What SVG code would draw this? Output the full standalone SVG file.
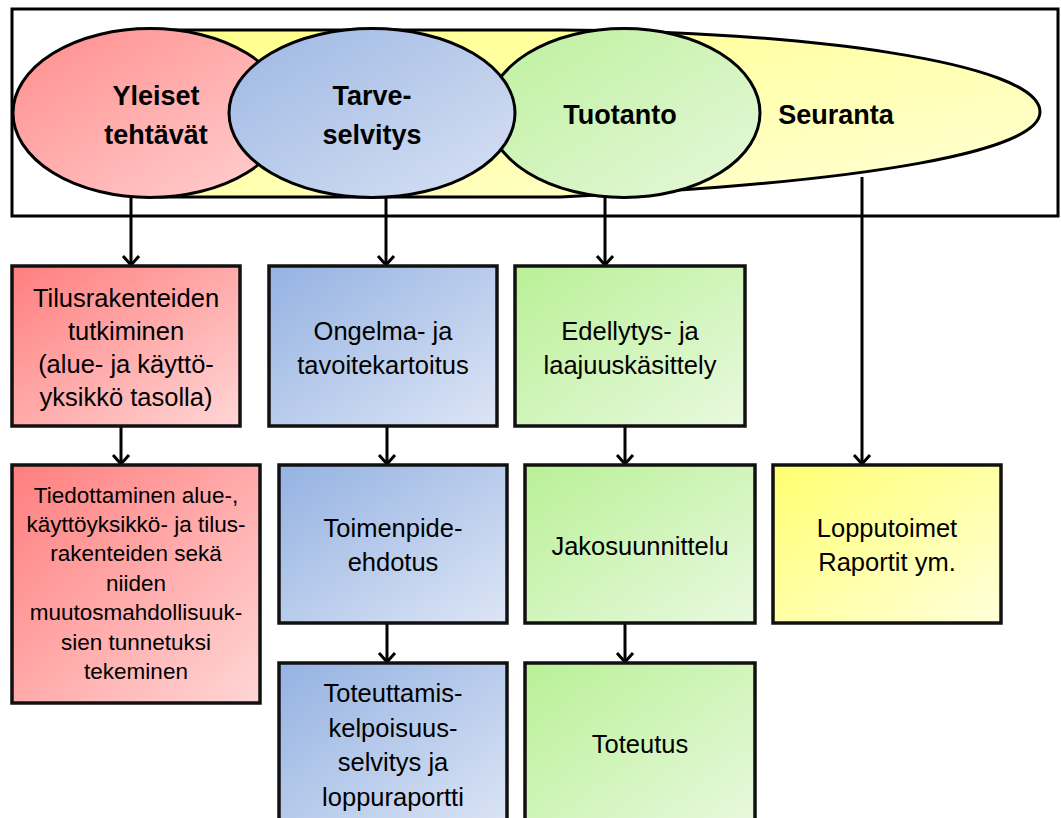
<svg xmlns="http://www.w3.org/2000/svg" width="1061" height="818" viewBox="0 0 1061 818">
<defs>
<linearGradient id="gRed" x1="0" y1="0" x2="1" y2="1"><stop offset="0" stop-color="#FF7E7E"/><stop offset="1" stop-color="#FFD6D6"/></linearGradient>
<linearGradient id="gBlue" x1="0" y1="0" x2="1" y2="1"><stop offset="0" stop-color="#94B2E2"/><stop offset="1" stop-color="#DDE5F5"/></linearGradient>
<linearGradient id="gGreen" x1="0" y1="0" x2="1" y2="1"><stop offset="0" stop-color="#B9F096"/><stop offset="1" stop-color="#E9F9E0"/></linearGradient>
<linearGradient id="gYellow" x1="0" y1="0" x2="1" y2="1"><stop offset="0" stop-color="#FFFF70"/><stop offset="1" stop-color="#FFFFDC"/></linearGradient>
<linearGradient id="eRed" x1="0" y1="0" x2="1" y2="1"><stop offset="0" stop-color="#FF8C8C"/><stop offset="1" stop-color="#FFD2D2"/></linearGradient>
<linearGradient id="eBlue" x1="0" y1="0" x2="1" y2="1"><stop offset="0" stop-color="#9CB7E3"/><stop offset="1" stop-color="#D8E1F3"/></linearGradient>
<linearGradient id="eGreen" x1="0" y1="0" x2="1" y2="1"><stop offset="0" stop-color="#BDF09C"/><stop offset="1" stop-color="#E6F8DC"/></linearGradient>
<linearGradient id="eYellow" x1="0" y1="0" x2="1" y2="1"><stop offset="0" stop-color="#FFFF8A"/><stop offset="1" stop-color="#FFFFD6"/></linearGradient>
<marker id="arr" markerUnits="userSpaceOnUse" viewBox="-13 -11 16 22" refX="0" refY="0" markerWidth="16" markerHeight="22" orient="auto">
<path d="M-9,-8 L0,0 L-9,8" fill="none" stroke="#000" stroke-width="3"/>
</marker>
</defs>
<style>
.sh{stroke:#000;stroke-width:3}
.bx{stroke:#111;stroke-width:3.5}
.t{font-family:"Liberation Sans",Arial,sans-serif;font-size:25.5px;fill:#000;text-anchor:middle}
.ts{font-size:22.5px}
.b{font-family:"Liberation Sans",Arial,sans-serif;font-size:27px;font-weight:bold;fill:#000;text-anchor:middle}
.c{stroke:#000;stroke-width:3;fill:none;marker-end:url(#arr)}
</style>
<rect width="1061" height="818" fill="#fff"/>
<g id="frame"><rect x="12" y="9" width="1046" height="207" fill="none" stroke="#000" stroke-width="3"/></g>
<g id="seuranta">
<path class="sh" fill="url(#eYellow)" d="M160,30 L560,30 C800,31 1040,62 1040,112 C1040,150 880,182 560,197 L160,197 Z"/>
<text class="b" x="836" y="124">Seuranta</text>
</g>
<g id="yleiset">
<ellipse class="sh" fill="url(#eRed)" cx="150" cy="113" rx="137" ry="84.5"/>
<text class="b" x="156" y="105">Yleiset</text>
<text class="b" x="156" y="144">tehtävät</text>
</g>
<g id="tuotanto">
<ellipse class="sh" fill="url(#eGreen)" cx="624" cy="113" rx="136" ry="84.5"/>
<text class="b" x="620" y="124">Tuotanto</text>
</g>
<g id="tarveselvitys">
<ellipse class="sh" fill="url(#eBlue)" cx="372" cy="113" rx="143" ry="84.5"/>
<text class="b" x="372" y="105">Tarve-</text>
<text class="b" x="372" y="144">selvitys</text>
</g>
<g id="connectors">
<line class="c" x1="131" y1="197" x2="131" y2="265"/>
<line class="c" x1="386" y1="197" x2="386" y2="265"/>
<line class="c" x1="605" y1="197" x2="605" y2="265"/>
<line class="c" x1="862" y1="177" x2="862" y2="464"/>
<line class="c" x1="121" y1="426" x2="121" y2="464"/>
<line class="c" x1="387" y1="426" x2="387" y2="464"/>
<line class="c" x1="625" y1="426" x2="625" y2="464"/>
<line class="c" x1="387" y1="623" x2="387" y2="662"/>
<line class="c" x1="625" y1="623" x2="625" y2="662"/>
</g>
<g id="box-tilus">
<rect class="bx" fill="url(#gRed)" x="12" y="266" width="228" height="160"/>
<text class="t" x="126" y="307">Tilusrakenteiden</text>
<text class="t" x="126" y="340">tutkiminen</text>
<text class="t" x="126" y="373">(alue- ja käyttö-</text>
<text class="t" x="126" y="406">yksikkö tasolla)</text>
</g>
<g id="box-ongelma">
<rect class="bx" fill="url(#gBlue)" x="269" y="266" width="228" height="160"/>
<text class="t" x="383" y="340">Ongelma- ja</text>
<text class="t" x="383" y="374">tavoitekartoitus</text>
</g>
<g id="box-edellytys">
<rect class="bx" fill="url(#gGreen)" x="515" y="266" width="230" height="160"/>
<text class="t" x="630" y="340">Edellytys- ja</text>
<text class="t" x="630" y="374">laajuuskäsittely</text>
</g>
<g id="box-tiedottaminen">
<rect class="bx" fill="url(#gRed)" x="12" y="465" width="248" height="238"/>
<text class="t ts" x="136" y="503">Tiedottaminen alue-,</text>
<text class="t ts" x="136" y="532">käyttöyksikkö- ja tilus-</text>
<text class="t ts" x="136" y="561">rakenteiden sekä</text>
<text class="t ts" x="136" y="591">niiden</text>
<text class="t ts" x="136" y="620">muutosmahdollisuuk-</text>
<text class="t ts" x="136" y="650">sien tunnetuksi</text>
<text class="t ts" x="136" y="679">tekeminen</text>
</g>
<g id="box-toimenpide">
<rect class="bx" fill="url(#gBlue)" x="279" y="465" width="228" height="158"/>
<text class="t" x="393" y="537">Toimenpide-</text>
<text class="t" x="393" y="571">ehdotus</text>
</g>
<g id="box-jako">
<rect class="bx" fill="url(#gGreen)" x="525" y="465" width="230" height="158"/>
<text class="t" x="640" y="555">Jakosuunnittelu</text>
</g>
<g id="box-loppu">
<rect class="bx" fill="url(#gYellow)" x="773" y="465" width="228" height="158"/>
<text class="t" x="887" y="537">Lopputoimet</text>
<text class="t" x="887" y="571">Raportit ym.</text>
</g>
<g id="box-toteuttamis">
<rect class="bx" fill="url(#gBlue)" x="279" y="663" width="228" height="170"/>
<text class="t" x="393" y="702">Toteuttamis-</text>
<text class="t" x="393" y="737">kelpoisuus-</text>
<text class="t" x="393" y="771">selvitys ja</text>
<text class="t" x="393" y="806">loppuraportti</text>
</g>
<g id="box-toteutus">
<rect class="bx" fill="url(#gGreen)" x="525" y="663" width="230" height="170"/>
<text class="t" x="640" y="753">Toteutus</text>
</g>
</svg>
